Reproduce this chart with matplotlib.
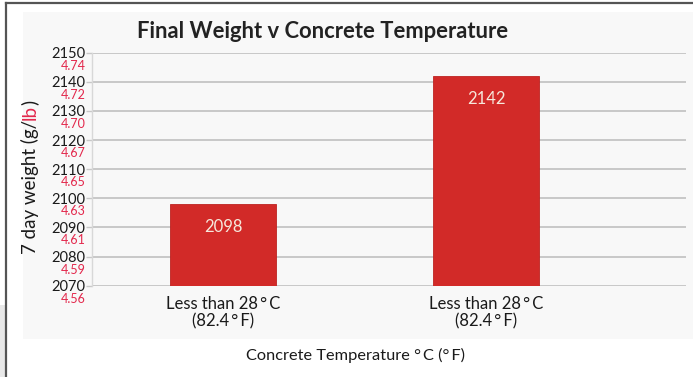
import matplotlib
matplotlib.use("Agg")
import matplotlib.pyplot as plt
from matplotlib.patches import Rectangle
from matplotlib.lines import Line2D
from matplotlib.transforms import offset_copy

# ---- data ----
categories = ["Less than 28\u2009°\u2009C\n(82.4\u2009°\u2009F)", "Less than 28\u2009°\u2009C\n(82.4\u2009°\u2009F)"]
weights = [2098, 2142]
gram_ticks = [2070, 2080, 2090, 2100, 2110, 2120, 2130, 2140, 2150]
pound_labels = ["4.56", "4.59", "4.61", "4.63", "4.65", "4.67", "4.70", "4.72", "4.74"]
title = "Final Weight v Concrete Temperature"
xlabel = "Concrete Temperature °\u2009C (°\u2009F)"
ylabel_parts = ["7 day weight (g/", "lb", ")"]

plt.rcParams['font.family'] = ['Lato', 'DejaVu Sans']

W, H = 693, 377
fig = plt.figure(figsize=(W / 100, H / 100), dpi=100, facecolor='white')

RED_TXT = '#e3284c'
BAR = '#d22a28'

# background panel and frame
fig.patches.append(Rectangle((23 / W, 1 - 339 / H), (W - 23) / W, (339 - 12) / H,
                             transform=fig.transFigure, facecolor='#f8f8f8',
                             edgecolor='none', zorder=-5))
fig.patches.append(Rectangle((0, 0), 5 / W, (H - 305) / H, transform=fig.transFigure,
                             facecolor='#e8e8e8', edgecolor='none', zorder=-5))
fig.lines.append(Line2D([6 / W, 6 / W], [0, 1 - 3 / H], transform=fig.transFigure,
                        color='#555555', lw=1.6))
fig.lines.append(Line2D([6 / W, 1], [1 - 3 / H, 1 - 3 / H], transform=fig.transFigure,
                        color='#555555', lw=1.6))

left, right = 92 / W, 686 / W
top, bottom = 1 - 52.7 / H, 1 - 285.7 / H
ax = fig.add_axes([left, bottom, right - left, top - bottom])
ax.set_facecolor('none')

x = list(range(len(categories)))
bars = ax.bar(x, weights, width=0.403, color=BAR, edgecolor='#bd2422', linewidth=0.6, zorder=3)
for xi, v in zip(x, weights):
    ax.annotate(str(v), (xi, v), xytext=(0, -16.5), textcoords='offset points',
                ha='center', va='center', color='#f6e8dc', fontsize=12, zorder=4)

ax.set_xlim(-0.498, 1.76)
ax.set_ylim(gram_ticks[0], gram_ticks[-1])
ax.set_yticks(gram_ticks)
ax.set_yticklabels([str(t) for t in gram_ticks])
ax.tick_params(axis='y', length=4, width=1, color='#c8c8c8', pad=1, labelsize=10.5,
               labelcolor='#1a1a1a')
ax.set_xticks(x)
ax.set_xticklabels(categories, fontsize=12, linespacing=1.1, color='#1a1a1a')
ax.tick_params(axis='x', length=0, pad=7.5)
ax.yaxis.grid(True, color='#c8c8c8', lw=1.4, zorder=0)
ax.set_axisbelow(True)
for s in ['top', 'right', 'bottom']:
    ax.spines[s].set_visible(False)
ax.spines['left'].set_color('#d8d8d8')
ax.spines['left'].set_linewidth(1)

# pound labels (red) under each gram label
ytrans = offset_copy(ax.get_yaxis_transform(), fig=fig, x=-6, y=-13, units='dots')
for t, lbl in zip(gram_ticks, pound_labels):
    ax.text(0, t, lbl, transform=ytrans, ha='right', va='center', color=RED_TXT,
            fontsize=9, clip_on=False)

fig.text(323 / W, 1 - 31 / H, title, ha='center', va='center', fontsize=15.8,
         fontweight='bold', color='#222222')
fig.text(355 / W, 1 - 355 / H, xlabel, ha='center', va='center', fontsize=11.8,
         color='#1a1a1a')

# multi-colour rotated y label
fig.canvas.draw()
r = fig.canvas.get_renderer()
colors = ['#1a1a1a', RED_TXT, '#1a1a1a']
texts = []
lengths = []
for s, c in zip(ylabel_parts, colors):
    t = fig.text(0, 0, s, rotation=90, rotation_mode='anchor', ha='left', va='center',
                 color=c, fontsize=13.5)
    texts.append(t)
    lengths.append(t.get_window_extent(r).height)
total = sum(lengths)
xc, yc = 30, H - 177
start = yc - total / 2
acc = 0
for t, L in zip(texts, lengths):
    t.set_position((xc / W, (start + acc) / H))
    acc += L

fig.savefig('out.png', dpi=100, facecolor='white')
